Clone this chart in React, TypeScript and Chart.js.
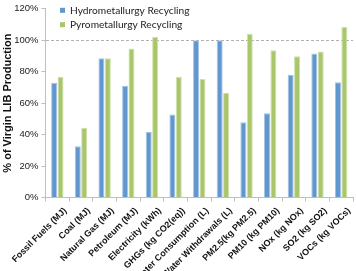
import React, { useEffect, useRef } from "react";
import { Chart, registerables } from "chart.js";

Chart.register(...registerables);

const categories = [
  "Fossil Fuels (MJ)",
  "Coal (MJ)",
  "Natural Gas (MJ)",
  "Petroleum (MJ)",
  "Electricity (kWh)",
  "GHGs (kg CO2(eq))",
  "Water Consumption (L)",
  "Water Withdrawals (L)",
  "PM2.5(kg PM2.5)",
  "PM10 (kg PM10)",
  "NOx (kg NOx)",
  "SO2 (kg SO2)",
  "VOCs (kg VOCs)",
];

const hydroLabel = "Hydrometallurgy Recycling";
const pyroLabel = "Pyrometallurgy Recycling";

const hydroValues = [73, 32.5, 88.5, 71, 41.6, 52.7, 100, 100, 47.8, 53.5, 78, 91.5, 73.3];
const pyroValues = [76.8, 44.3, 88.5, 94.7, 102, 76.8, 75.3, 66.5, 104, 93.6, 89.7, 92.8, 108.3];

const yTicks = [0, 20, 40, 60, 80, 100, 120];

const BLUE = "#6097CF";
const BLUE_EDGE = "#A6C3E6";
const GREEN = "#A9C66A";
const GREEN_EDGE = "#CFE0AC";

const insideLegend = {
  id: "insideLegend",
  afterDraw(chart: any) {
    const { ctx } = chart;
    const items = chart.data.datasets.map((d: any) => ({ label: d.label, color: d.backgroundColor }));
    ctx.save();
    ctx.font = "10.2px Lato";
    ctx.textBaseline = "middle";
    ctx.textAlign = "left";
    items.forEach((it: any, i: number) => {
      const cy = 10.3 + i * 14.4;
      ctx.fillStyle = it.color;
      ctx.fillRect(60, cy - 2.5, 5, 5);
      ctx.fillStyle = "#222";
      ctx.fillText(it.label, 70, cy);
    });
    ctx.restore();
  },
};

export default function App() {
  const ref = useRef<HTMLCanvasElement>(null);
  useEffect(() => {
    document.body.style.margin = "0";
    const chart = new Chart(ref.current!, {
      type: "bar",
      data: {
        labels: categories,
        datasets: [
          {
            label: hydroLabel,
            data: hydroValues,
            backgroundColor: BLUE,
            borderColor: BLUE_EDGE,
            borderWidth: { left: 1, right: 1, top: 1, bottom: 0 },
            categoryPercentage: 0.54,
            barPercentage: 0.94,
          },
          {
            label: pyroLabel,
            data: pyroValues,
            backgroundColor: GREEN,
            borderColor: GREEN_EDGE,
            borderWidth: { left: 1, right: 1, top: 1, bottom: 0 },
            categoryPercentage: 0.54,
            barPercentage: 0.94,
          },
        ],
      },
      plugins: [insideLegend],
      options: {
        animation: false,
        responsive: false,
        maintainAspectRatio: false,
        layout: { padding: { top: 4, right: 3, left: 0, bottom: 0 } },
        plugins: {
          legend: { display: false },
          tooltip: { enabled: false },
        },
        scales: {
          x: {
            afterFit: (s: any) => {
              s.height = 73.5;
            },
            grid: {
              display: true,
              offset: true,
              drawOnChartArea: false,
              drawTicks: true,
              tickLength: 4,
              tickColor: "#BFBFBF",
            },
            border: { display: true, color: "#BFBFBF", width: 1 },
            ticks: {
              autoSkip: false,
              maxRotation: 45,
              minRotation: 45,
              padding: 4,
              labelOffset: 8,
              color: "#111",
              font: { family: "'Liberation Sans', Arial", size: 9, weight: "bold" },
            },
          },
          y: {
            min: 0,
            max: 120,
            afterFit: (s: any) => {
              s.width = 44;
            },
            afterBuildTicks: (s: any) => {
              s.ticks = yTicks.map((v) => ({ value: v }));
            },
            grid: {
              display: true,
              drawOnChartArea: true,
              drawTicks: true,
              tickLength: 4,
              tickColor: "#BFBFBF",
              color: (c: any) => (c.tick && c.tick.value === 100 ? "#B0B0B0" : "rgba(0,0,0,0)"),
              lineWidth: 1,
            },
            border: { display: true, color: "#BFBFBF", width: 1, dash: [3, 2] },
            ticks: {
              padding: 3,
              color: "#222",
              font: { family: "'Liberation Sans', Arial", size: 9.5 },
              callback: (v: any) => v + "%",
            },
            title: {
              display: true,
              text: "% of Virgin LIB Production",
              color: "#111",
              padding: { top: 0, bottom: 0 },
              font: { family: "'Liberation Sans', Arial", size: 11, weight: "bold" },
            },
          },
        },
      },
    });
    return () => chart.destroy();
  }, []);
  return (
    <div style={{ width: 356, height: 271 }}>
      <canvas ref={ref} width={356} height={271} style={{ width: 356, height: 271, display: "block" }} />
    </div>
  );
}
